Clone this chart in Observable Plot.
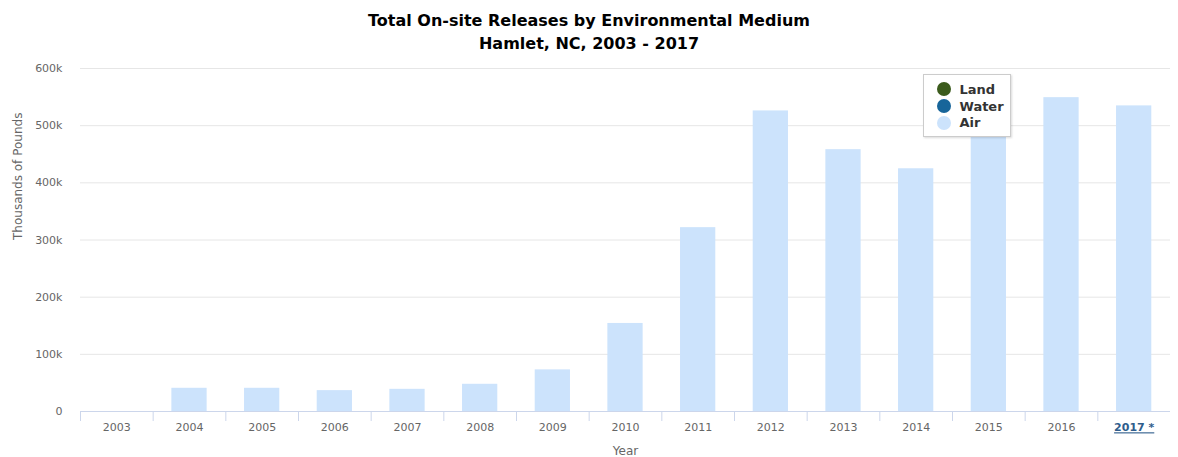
<!DOCTYPE html>
<html>
<head>
<meta charset="utf-8">
<script src="https://cdn.jsdelivr.net/npm/d3@7"></script>
<script src="https://cdn.jsdelivr.net/npm/@observablehq/plot@0.6"></script>
<style>
  body { margin: 0; background: #fff; font-family: "DejaVu Sans", Verdana, sans-serif; }
  #wrap { position: relative; width: 1178px; height: 457px; overflow: hidden; }
  #title { height: 57px; box-sizing: border-box; padding-top: 9px; text-align: center; font-weight: bold; font-size: 16px; line-height: 23px; color: #000; }
  #legend { position: absolute; left: 923px; top: 74px; width: 88px; height: 63px; box-sizing: border-box; border: 1px solid #ccc; background: #fff; box-shadow: 1px 1px 2px rgba(0,0,0,0.15); padding-top: 6px; }
  .li { height: 16.7px; display: flex; align-items: center; font-weight: bold; font-size: 13px; color: #333; }
  .sw { width: 14px; height: 14px; border-radius: 50%; margin-left: 12.5px; margin-right: 9px; }
</style>
</head>
<body>
<div id="wrap">
  <div id="title">Total On-site Releases by Environmental Medium<br>Hamlet, NC, 2003 - 2017</div>
  <div id="chart"></div>
  <div id="legend"></div>
</div>
<script>
const years = ["2003","2004","2005","2006","2007","2008","2009","2010","2011","2012","2013","2014","2015","2016","2017"];
const tickLabels = ["2003","2004","2005","2006","2007","2008","2009","2010","2011","2012","2013","2014","2015","2016","2017 *"];
const air   = [0, 40600, 40600, 36500, 38800, 47600, 72800, 154000, 321600, 525800, 458000, 424600, 563000, 549000, 534600];
const water = [0, 0, 0, 0, 0, 0, 0, 0, 0, 0, 0, 0, 0, 0, 0];
const land  = [0, 0, 0, 0, 0, 0, 0, 0, 0, 0, 0, 0, 0, 0, 0];
const media = ["Land", "Water", "Air"];
const mediaColors = ["#3b5b1c", "#17659a", "#cce3fc"];
const yTicks = [0, 100000, 200000, 300000, 400000, 500000, 600000];

const rows = [];
years.forEach((y, i) => {
  rows.push({year: y, medium: "Air", value: air[i]});
  rows.push({year: y, medium: "Water", value: water[i]});
  rows.push({year: y, medium: "Land", value: land[i]});
});

const W = 1178, H = 400, mL = 80, mR = 8;
const step = (W - mL - mR) / years.length;

const chart = Plot.plot({
  width: W, height: H,
  marginTop: 11, marginBottom: 46, marginLeft: mL, marginRight: mR,
  style: {fontFamily: "DejaVu Sans, Verdana, sans-serif", fontSize: "11px", color: "#666", background: "#fff"},
  x: {domain: years, padding: 0, round: false, axis: null, label: null},
  y: {domain: [0, 600000], axis: null, label: null},
  color: {domain: media, range: mediaColors},
  marks: [
    Plot.gridY(yTicks, {stroke: "#e6e6e6", strokeOpacity: 1}),
    Plot.barY(rows, {x: "year", y: "value", fill: "medium", insetLeft: 18.7, insetRight: 18.7}),
    Plot.ruleY([0], {stroke: "#ccd6eb"}),
    Plot.axisX({ticks: years, tickSize: 10, tickFormat: () => "", dx: -step / 2, stroke: "#ccd6eb", strokeOpacity: 1, label: null}),
    Plot.axisX({ticks: years, tickSize: 0, tickPadding: 12, tickFormat: d => tickLabels[years.indexOf(d)], fill: "#666", label: null}),
    Plot.axisY({ticks: yTicks, tickSize: 0, tickPadding: 18, tickFormat: d => d === 0 ? "0" : (d / 1000) + "k", fill: "#666", label: null}),
    Plot.text(["Year"], {frameAnchor: "bottom", lineAnchor: "middle", dy: 40, fill: "#666", fontSize: 12}),
    Plot.text(["Thousands of Pounds"], {frameAnchor: "left", lineAnchor: "middle", rotate: -90, dx: -62, fill: "#666", fontSize: 12})
  ]
});
document.getElementById("chart").appendChild(chart);

d3.select(chart).selectAll("text").filter(function() { return this.textContent === "2017 *"; })
  .attr("fill", "#2f5d8c").attr("font-weight", "bold").attr("text-decoration", "underline");

const legend = d3.select("#legend");
media.forEach((m, i) => {
  const li = legend.append("div").attr("class", "li");
  li.append("div").attr("class", "sw").style("background", mediaColors[i]);
  li.append("span").text(m);
});
</script>
</body>
</html>
